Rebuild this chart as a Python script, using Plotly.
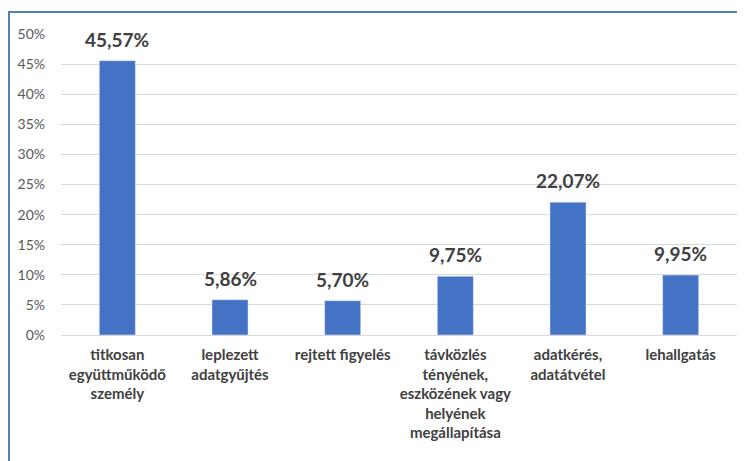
import plotly.graph_objects as go

categories = [
    "titkosan<br>együttműködő<br>személy",
    "leplezett<br>adatgyűjtés",
    "rejtett figyelés",
    "távközlés<br>tényének,<br>eszközének vagy<br>helyének<br>megállapítása",
    "adatkérés,<br>adatátvétel",
    "lehallgatás",
]
values = [0.4557, 0.0586, 0.0570, 0.0975, 0.2207, 0.0995]
tick_vals = [0, 0.05, 0.10, 0.15, 0.20, 0.25, 0.30, 0.35, 0.40, 0.45, 0.50]

# page body adds an 8px offset
W, H = 737, 453
L, R, T, B = 53, 8, 26, 126
pw, ph = W - L - R, H - T - B

fig = go.Figure(go.Bar(
    x=categories, y=values,
    marker_color="#4472C4",
    cliponaxis=False,
    width=0.32,
    hoverinfo="skip",
))

for c, v in zip(categories, values):
    fig.add_annotation(
        x=c, y=v, text=f"{v*100:.2f}%".replace(".", ","),
        showarrow=False, yanchor="bottom", yshift=8,
        font=dict(family="Lato, Carlito, sans-serif", size=19, color="#404040", weight="bold"),
    )

fig.update_layout(
    width=W, height=H,
    margin=dict(l=L, r=R, t=T, b=B, autoexpand=False),
    separators=",.",
    paper_bgcolor="white", plot_bgcolor="white",
    showlegend=False,
    font=dict(family="Lato, Carlito, sans-serif"),
    xaxis=dict(
        tickfont=dict(size=15, color="#404040", weight="bold"),
        showline=True, linecolor="#D9D9D9", linewidth=1,
        ticks="", ticklabelstandoff=6, automargin=False,
    ),
    yaxis=dict(
        range=[0, 0.5], tickvals=tick_vals, tickformat=".0%",
        tickfont=dict(size=14, color="#595959"),
        gridcolor="#D9D9D9", gridwidth=1, zeroline=False,
        ticks="", ticklabelstandoff=15, automargin=False,
    ),
    shapes=[dict(
        type="rect", xref="paper", yref="paper",
        x0=(0 - L) / pw + 1 / pw, x1=1 + (R + 20) / pw,
        y0=-(B + 20) / ph, y1=1 + (T - 4) / ph,
        line=dict(color="#4F81BD", width=2), fillcolor="rgba(0,0,0,0)",
        layer="below",
    )],
)

fig.write_html("out.html")
